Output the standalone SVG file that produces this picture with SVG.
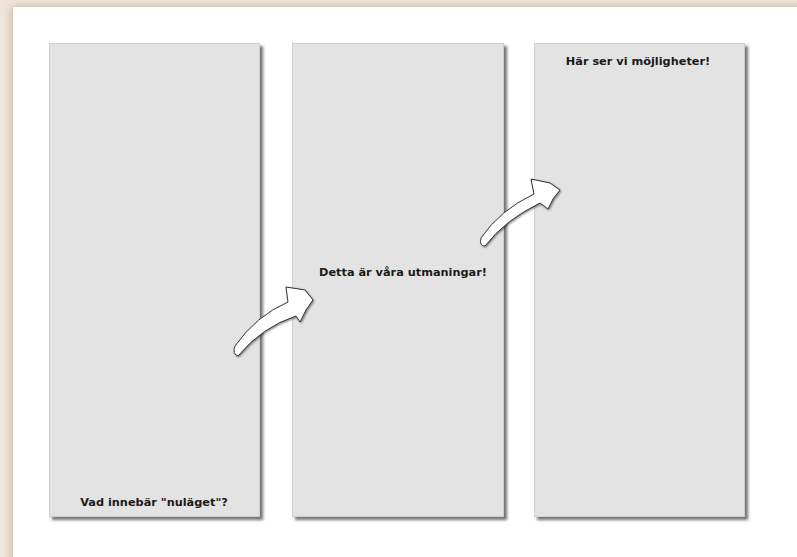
<svg xmlns="http://www.w3.org/2000/svg" width="797" height="557" viewBox="0 0 797 557">
  <defs>
    <filter id="pageShadow" x="-5%" y="-5%" width="110%" height="110%">
      <feGaussianBlur in="SourceAlpha" stdDeviation="4"/>
      <feOffset dx="-2" dy="-1" result="b"/>
      <feFlood flood-color="#b89a78" flood-opacity="0.6"/>
      <feComposite in2="b" operator="in"/>
      <feMerge><feMergeNode/><feMergeNode in="SourceGraphic"/></feMerge>
    </filter>
    <filter id="panelShadow" x="-5%" y="-5%" width="115%" height="110%">
      <feGaussianBlur in="SourceAlpha" stdDeviation="1.5"/>
      <feOffset dx="3" dy="3" result="b"/>
      <feFlood flood-color="#000" flood-opacity="0.55"/>
      <feComposite in2="b" operator="in"/>
      <feMerge><feMergeNode/><feMergeNode in="SourceGraphic"/></feMerge>
    </filter>
    <filter id="arrowShadow" x="-20%" y="-20%" width="140%" height="140%">
      <feGaussianBlur in="SourceAlpha" stdDeviation="1.2"/>
      <feOffset dx="1" dy="1" result="b"/>
      <feFlood flood-color="#000" flood-opacity="0.5"/>
      <feComposite in2="b" operator="in"/>
      <feMerge><feMergeNode/><feMergeNode in="SourceGraphic"/></feMerge>
    </filter>
  </defs>
  <style>
    .panel { fill: #e3e3e3; stroke: #cfcfcf; stroke-width: 1; }
    .label { font-family: "DejaVu Sans", "Liberation Sans", sans-serif; font-weight: bold; font-size: 11.3px; fill: #1a1a1a; text-anchor: middle; }
    .arrow { fill: #ffffff; stroke: #333; stroke-width: 1; stroke-linejoin: round; }
  </style>
  <rect x="0" y="0" width="797" height="557" fill="#efe6dc"/>
  <rect x="13" y="7" width="800" height="560" fill="#ffffff" filter="url(#pageShadow)"/>

  <g id="panel1">
    <rect class="panel" x="49.5" y="43.5" width="210" height="473" filter="url(#panelShadow)"/>
    <text class="label" x="154" y="506">Vad innebär "nuläget"?</text>
  </g>
  <g id="panel2">
    <rect class="panel" x="292.5" y="43.5" width="211" height="473" filter="url(#panelShadow)"/>
    <text class="label" x="403" y="276">Detta är våra utmaningar!</text>
  </g>
  <g id="panel3">
    <rect class="panel" x="534.5" y="43.5" width="210" height="473" filter="url(#panelShadow)"/>
    <text class="label" x="638" y="65">Här ser vi möjligheter!</text>
  </g>

  <g id="connectors">
    <path class="arrow" filter="url(#arrowShadow)" d="M 238 356 Q 262 327 296 316 L 300 322 L 306 310 L 313 300 L 305 290 L 286 287 L 288 302 Q 256 316 235 346 Q 232 354 238 356 Z"/>
    <path class="arrow" filter="url(#arrowShadow)" d="M 485 246 Q 505 220 540 203 L 548 209 L 553 199 L 560 190 L 550 183 L 531 179 L 534 194 Q 500 210 481 238 Q 479 246 485 246 Z"/>
  </g>
</svg>
